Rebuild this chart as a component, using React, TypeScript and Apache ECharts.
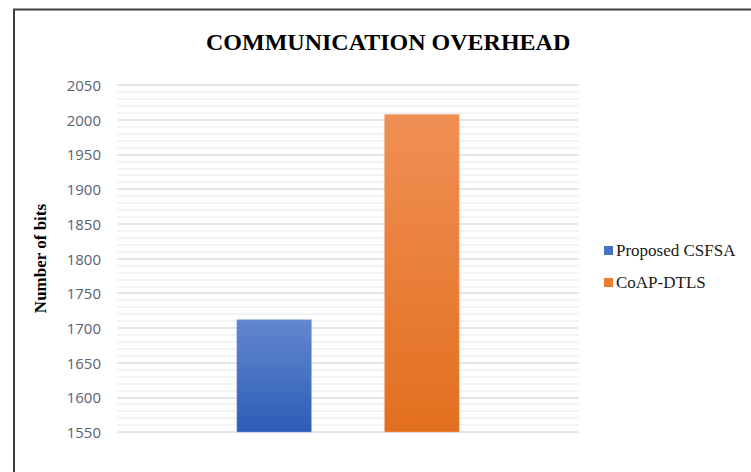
import React, { useEffect, useRef } from "react";
import * as echarts from "echarts";

const categories = ["Communication overhead"];
const seriesNames = ["Proposed CSFSA", "CoAP-DTLS"];
const proposedValues = [1712];
const coapValues = [2008];
const yTicks = { min: 1550, max: 2050, interval: 50 };

export default function App() {
  const ref = useRef<HTMLDivElement>(null);
  useEffect(() => {
    if (!ref.current) return;
    const chart = echarts.init(ref.current, null, { renderer: "svg" });
    const blueGrad = new echarts.graphic.LinearGradient(0, 0, 0, 1, [
      { offset: 0, color: "#6287cf" },
      { offset: 1, color: "#2d5db6" },
    ]);
    const orangeGrad = new echarts.graphic.LinearGradient(0, 0, 0, 1, [
      { offset: 0, color: "#f08f55" },
      { offset: 1, color: "#e26f1e" },
    ]);
    chart.setOption({
      animation: false,
      backgroundColor: "#ffffff",
      title: {
        text: "COMMUNICATION OVERHEAD",
        left: 201,
        top: 25,
        textStyle: {
          fontFamily: "Liberation Serif",
          fontWeight: "bold",
          fontSize: 24,
          color: "#000000",
        },
      },
      graphic: [
        {
          type: "rect",
          shape: { x: 14, y: 9.5, width: 900, height: 700 },
          style: { fill: "none", stroke: "#3f3f3f", lineWidth: 2 },
          silent: true,
        },
      ],
      legend: {
        orient: "vertical",
        left: 599,
        top: 237,
        itemWidth: 9,
        itemHeight: 9,
        itemGap: 15,
        icon: "rect",
        data: [
          { name: seriesNames[0], itemStyle: { color: "#4472c4", borderWidth: 0 } },
          { name: seriesNames[1], itemStyle: { color: "#ed7d31", borderWidth: 0 } },
        ],
        textStyle: {
          fontFamily: "Liberation Serif",
          fontSize: 17,
          color: "#1a1a1a",
          padding: [0, 0, 0, -2],
        },
      },
      grid: { left: 117, right: 172, top: 85, bottom: 40 },
      xAxis: {
        type: "category",
        data: categories,
        axisLine: { show: false },
        axisTick: { show: false },
        axisLabel: { show: false },
      },
      yAxis: {
        type: "value",
        min: yTicks.min,
        max: yTicks.max,
        interval: yTicks.interval,
        name: "Number of bits",
        nameLocation: "middle",
        nameGap: 68,
        nameTextStyle: {
          fontFamily: "Liberation Serif",
          fontWeight: "bold",
          fontSize: 17,
          color: "#000000",
        },
        axisLine: { show: false },
        axisTick: { show: false },
        axisLabel: {
          margin: 16,
          fontFamily: "Open Sans",
          fontSize: 15,
          color: "#5a6272",
          formatter: (v: number) => String(v),
        },
        splitLine: { lineStyle: { color: "#d9dde5", width: 1.5 } },
        minorTick: { show: false, splitNumber: 5 },
        minorSplitLine: { show: true, lineStyle: { color: "#eef0f3", width: 1.5 } },
      },
      series: [
        {
          name: seriesNames[0],
          type: "bar",
          data: proposedValues,
          barWidth: 75,
          barGap: "97%",
          itemStyle: { color: blueGrad, borderColor: "#7d9ad6", borderWidth: 0.5 },
        },
        {
          name: seriesNames[1],
          type: "bar",
          data: coapValues,
          barWidth: 75,
          barGap: "97%",
          itemStyle: { color: orangeGrad, borderColor: "#f4a070", borderWidth: 0.5 },
        },
      ],
    });
    return () => chart.dispose();
  }, []);
  return (
    <div
      ref={ref}
      style={{ position: "fixed", left: 0, top: 0, width: 751, height: 472 }}
    />
  );
}
